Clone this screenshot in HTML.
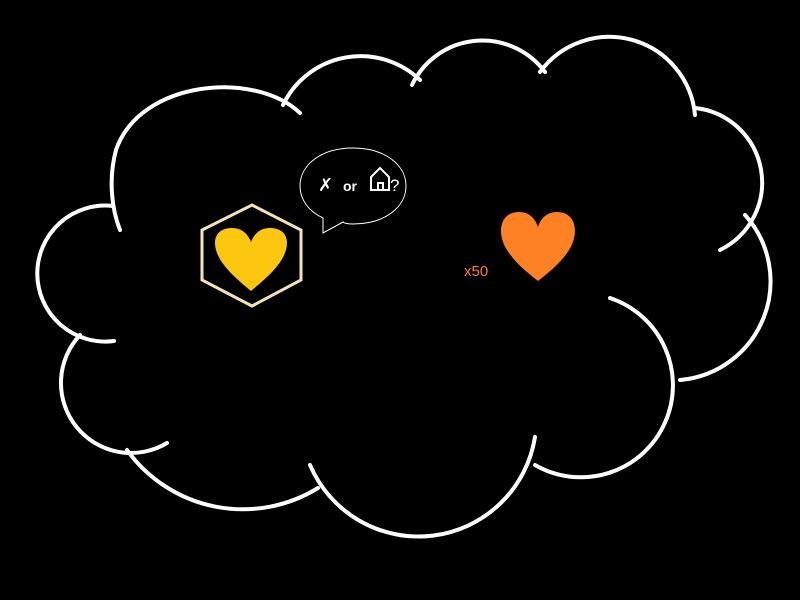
<!DOCTYPE html>
<html><head><style>html,body{margin:0;padding:0;background:#000;width:800px;height:600px;overflow:hidden}</style></head>
<body>
<svg width="800" height="600" viewBox="0 0 800 600" xmlns="http://www.w3.org/2000/svg">
<rect width="800" height="600" fill="#000"/>
<g fill="none" stroke="#fff" stroke-width="4" stroke-linecap="round">
<path d="M300,113 C255,70 140,80 116,150 C108,180 112,210 120,230"/>
<path d="M113,206 A68,68 0 1 0 114,341"/>
<path d="M80,335 A70,70 0 0 0 167,443"/>
<path d="M127,450 A143,143 0 0 0 318,488"/>
<path d="M310,465 A118,118 0 0 0 535,437"/>
<path d="M535,465 A92,92 0 1 0 610,298"/>
<path d="M680,380 A99,99 0 0 0 745,215"/>
<path d="M720,250 A75,75 0 0 0 695,108"/>
<path d="M695,115 A86,86 0 0 0 540,72"/>
<path d="M545,72 A78,78 0 0 0 412,85"/>
<path d="M420,80 A86,86 0 0 0 283,105"/>
</g>
<polygon points="252,205 301,230 301,280 252,306 202,280 202,230" fill="none" stroke="#f3e3b5" stroke-width="3"/>
<path d="M251,291 C238,280 215,262 215,243 C215,233 222,228 232,228 C242,228 248,234 251,242 C254,234 260,228 270,228 C280,228 287,233 287,243 C287,262 264,280 251,291 Z" fill="#fdc70f"/>
<path d="M538,281 C524,270 501,252 501,231 C501,219 508,212 519,212 C529,212 535,218 538,227 C541,218 547,212 557,212 C568,212 575,219 575,231 C575,252 552,270 538,281 Z" fill="#fe8124"/>
<text x="464" y="276" font-family="Liberation Sans, sans-serif" font-size="15" fill="#fe8124">x50</text>
<path d="M353,148 C385,148 406,165 406,186 C406,207 385,224 353,224 C348,224 343,223 343,222 L323,233 L323,218 C308,211 300,199 300,186 C300,165 321,148 353,148 Z" fill="#000" stroke="#fff" stroke-width="1"/>
<text x="318" y="191" font-family="DejaVu Sans, sans-serif" font-size="18" fill="#fff">✗</text>
<text x="343" y="191" font-family="Liberation Sans, sans-serif" font-size="14" fill="#fff" font-weight="bold">or</text>
<path d="M371,190 L371,177 L380,168 L389,177 L389,190 Z M378,190 L378,183 L383,183 L383,190" fill="none" stroke="#fff" stroke-width="2"/>
<text x="390" y="191" font-family="Liberation Sans, sans-serif" font-size="17" fill="#fff">?</text>
</svg>
</body></html>
